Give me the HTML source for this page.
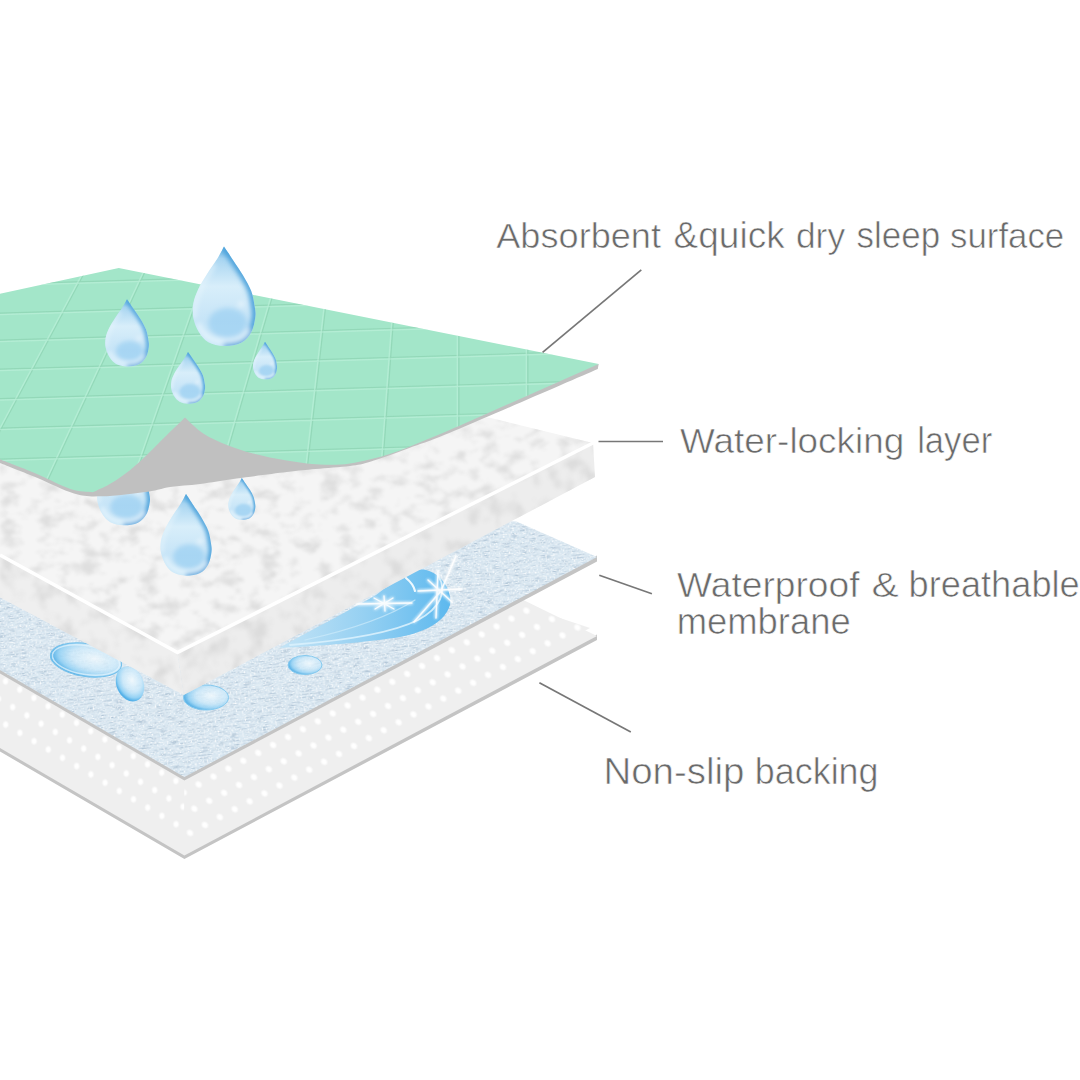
<!DOCTYPE html>
<html><head><meta charset="utf-8"><style>
html,body{margin:0;padding:0;background:#fff;width:1080px;height:1080px;overflow:hidden}
svg{display:block}
text{font-family:"Liberation Sans",sans-serif;fill:#6a6a6a;stroke:#fff;stroke-width:0.6px}
</style></head><body>
<svg width="1080" height="1080" viewBox="0 0 1080 1080">
<defs>
  <radialGradient id="dotG"><stop offset="0.45" stop-color="#fff"/><stop offset="1" stop-color="#fff" stop-opacity="0"/></radialGradient>
  <pattern id="dots" patternUnits="userSpaceOnUse" width="1" height="1" patternTransform="matrix(14.9 -7.9 10.6 16.3 494.45 638.6)">
    <rect width="1" height="1" fill="#efefef"/>
    <circle cx="0.5" cy="0.5" r="0.23" fill="url(#dotG)"/>
  </pattern>
  <pattern id="dotsL" patternUnits="userSpaceOnUse" width="1" height="1" patternTransform="matrix(14.2 8.3 -7 17.5 87.1 718.2)">
    <rect width="1" height="1" fill="#efefef"/>
    <circle cx="0.5" cy="0.5" r="0.22" fill="url(#dotG)"/>
  </pattern>
  <radialGradient id="dropG" cx="0.52" cy="0.72" r="0.62">
    <stop offset="0" stop-color="#8ccaf0"/>
    <stop offset="0.35" stop-color="#a9d7f3"/>
    <stop offset="0.7" stop-color="#d6edfa"/>
    <stop offset="0.86" stop-color="#c9e6f8"/>
    <stop offset="1" stop-color="#4fa2da"/>
  </radialGradient>
  <radialGradient id="blobG" cx="0.5" cy="0.5" r="0.5">
    <stop offset="0" stop-color="#6fb8e8" stop-opacity="0.85"/>
    <stop offset="0.7" stop-color="#8cc8ee" stop-opacity="0.5"/>
    <stop offset="1" stop-color="#a0d2f0" stop-opacity="0"/>
  </radialGradient>
  <path id="dropP" d="M0,-2.06 C0.048,-1.988 0.188,-1.782 0.290,-1.630 C0.392,-1.478 0.513,-1.312 0.610,-1.150 C0.707,-0.988 0.808,-0.823 0.870,-0.660 C0.932,-0.497 0.958,-0.307 0.980,-0.170 C1.002,-0.033 1.018,0.025 1.000,0.160 C0.982,0.295 0.945,0.505 0.870,0.640 C0.795,0.775 0.695,0.898 0.550,0.970 C0.405,1.042 0.175,1.073 0.000,1.070 C-0.175,1.067 -0.367,1.022 -0.500,0.950 C-0.633,0.878 -0.720,0.767 -0.800,0.640 C-0.880,0.513 -0.950,0.342 -0.980,0.190 C-1.010,0.038 -1.007,-0.118 -0.980,-0.270 C-0.953,-0.422 -0.895,-0.563 -0.820,-0.720 C-0.745,-0.877 -0.633,-1.047 -0.530,-1.210 C-0.427,-1.373 -0.288,-1.558 -0.200,-1.700 C-0.112,-1.842 -0.033,-2.000 0.000,-2.060 Z"/>
  <linearGradient id="dropBase" x1="0" y1="0" x2="0" y2="1">
    <stop offset="0" stop-color="#5aaee2"/>
    <stop offset="0.12" stop-color="#a8d5f1"/>
    <stop offset="0.4" stop-color="#d8eefa"/>
    <stop offset="0.75" stop-color="#c6e4f7"/>
    <stop offset="1" stop-color="#cbe8f8"/>
  </linearGradient>
  <filter id="dblur" x="-20%" y="-20%" width="140%" height="140%"><feGaussianBlur stdDeviation="0.09"/></filter>
  <clipPath id="dropClip"><use href="#dropP"/></clipPath>
  <g id="drop">
    <use href="#dropP" fill="url(#dropBase)"/>
    <g clip-path="url(#dropClip)">
      <g filter="url(#dblur)">
        <ellipse cx="0.12" cy="0.35" rx="0.62" ry="0.48" fill="#8ac8ef" opacity="0.5"/>
        <path d="M0,-2.06 C0.048,-1.988 0.188,-1.782 0.290,-1.630 C0.392,-1.478 0.513,-1.312 0.610,-1.150 C0.707,-0.988 0.808,-0.823 0.870,-0.660 C0.932,-0.497 0.958,-0.307 0.980,-0.170 C1.002,-0.033 1.018,0.025 1.000,0.160 C0.982,0.295 0.945,0.505 0.870,0.640 C0.795,0.775 0.695,0.898 0.550,0.970 C0.405,1.042 0.092,1.053 0.000,1.070" fill="none" stroke="#4aa0da" stroke-width="0.22"/>
        <path d="M-0.82,0.35 C-0.7,0.8 -0.3,0.95 0.2,0.92 C0.5,0.9 0.7,0.75 0.8,0.55" fill="none" stroke="#eaf7fe" stroke-width="0.14" opacity="0.85"/>
        <path d="M-0.95,0.2 C-0.98,-0.3 -0.8,-0.75 -0.3,-1.5" fill="none" stroke="#e6f5fd" stroke-width="0.12" opacity="0.8"/>
        <ellipse cx="0.55" cy="-0.25" rx="0.08" ry="0.06" fill="#fff" opacity="0.9"/>
      </g>
    </g>
  </g>

  <filter id="foamTex" x="0" y="0" width="1" height="1" color-interpolation-filters="sRGB">
    <feTurbulence type="fractalNoise" baseFrequency="0.05 0.08" numOctaves="3" seed="4" result="n"/>
    <feColorMatrix in="n" type="matrix" values="0 0 0 0 0  0 0 0 0 0  0 0 0 0 0  -3.4 0 0 0 1.78" result="a0"/>
    <feGaussianBlur in="a0" stdDeviation="1.2" result="a"/>
    <feFlood flood-color="#dfdfdf"/>
    <feComposite in2="a" operator="in"/>
  </filter>
  <filter id="blueTex" x="0" y="0" width="1" height="1" color-interpolation-filters="sRGB">
    <feTurbulence type="fractalNoise" baseFrequency="0.1 0.7" numOctaves="3" seed="5" result="n"/>
    <feColorMatrix in="n" type="matrix" values="0 0 0 0 0.68  0 0 0 0 0.76  0 0 0 0 0.83  -2.8 0 0 0 1.42" result="dk"/>
    <feTurbulence type="fractalNoise" baseFrequency="0.5 0.8" numOctaves="1" seed="9" result="n2"/>
    <feColorMatrix in="n2" type="matrix" values="0 0 0 0 1  0 0 0 0 1  0 0 0 0 1  3 0 0 0 -1.45" result="wh"/>
    <feMerge><feMergeNode in="dk"/><feMergeNode in="wh"/></feMerge>
  </filter>
  <clipPath id="foamTopClip"><polygon points="0,400 490,417.8 593,443 177.5,652.5 0,555"/></clipPath>
  <clipPath id="foamSideClip"><polygon points="0,555 177.5,652.5 593,443 595,477 183.75,695 0,597.5"/></clipPath>
  <filter id="foamSide" x="0" y="0" width="1" height="1" color-interpolation-filters="sRGB">
    <feTurbulence type="fractalNoise" baseFrequency="0.06 0.05" numOctaves="3" seed="11" result="n"/>
    <feColorMatrix in="n" type="matrix" values="0 0 0 0 0  0 0 0 0 0  0 0 0 0 0  -3.4 0 0 0 1.8" result="a0"/>
    <feGaussianBlur in="a0" stdDeviation="1.4" result="a"/>
    <feFlood flood-color="#dcdcdc"/>
    <feComposite in2="a" operator="in"/>
  </filter>
  <clipPath id="blueClip"><polygon points="0,500 517,521.7 597,557 184.4,777 0,670"/></clipPath>
  <clipPath id="greenClip"><use href="#greenShape"/></clipPath>
  <filter id="soft" x="-5%" y="-5%" width="110%" height="110%"><feGaussianBlur stdDeviation="0.6"/></filter>
</defs>

<!-- bottom backing layer -->
<polygon points="0,746 184.4,853 597,634.5 597,640 184.4,859 0,751.5" fill="#c4c4c4"/>
<polygon points="0,530 360,520 597,636 184.4,855.5 0,748" fill="#efefef"/>
<polygon points="184.2,843.6 590,628 400,565 184.2,520" fill="url(#dots)"/>
<polygon points="0,736 184.2,843.6 184.2,520 0,500" fill="url(#dotsL)"/>

<!-- blue membrane -->
<polygon points="0,668 184.4,775 597,555.5 597,561.5 184.4,780.5 0,673.5" fill="#c4c4c4"/>
<polygon points="0,500 517,521.7 597,557 184.4,777 0,670" fill="#d9e7f1"/>
<g clip-path="url(#blueClip)"><g transform="rotate(-6 300 650)"><rect x="-150" y="380" width="900" height="540" filter="url(#blueTex)"/></g></g>

<!-- splash & puddles -->
<defs>
  <linearGradient id="splG" x1="0" y1="1" x2="1" y2="0">
    <stop offset="0" stop-color="#9fd4f3"/>
    <stop offset="0.6" stop-color="#7cc4ef"/>
    <stop offset="1" stop-color="#5bb3ea"/>
  </linearGradient>
  <radialGradient id="pudG" cx="0.62" cy="0.42" r="0.6">
    <stop offset="0" stop-color="#f2fafe" stop-opacity="0.9"/>
    <stop offset="0.55" stop-color="#c9e8fa" stop-opacity="0.85"/>
    <stop offset="0.85" stop-color="#93d1f4"/>
    <stop offset="1" stop-color="#55b1e8"/>
  </radialGradient>
</defs>
<defs>
  <linearGradient id="splG2" x1="279" y1="0" x2="452" y2="0" gradientUnits="userSpaceOnUse">
    <stop offset="0" stop-color="#c4e4f6"/>
    <stop offset="0.5" stop-color="#95d0f2"/>
    <stop offset="1" stop-color="#5cb8ee"/>
  </linearGradient>
  <filter id="glow" x="-20%" y="-20%" width="140%" height="140%">
    <feGaussianBlur stdDeviation="1.6" result="b"/>
    <feMerge><feMergeNode in="b"/><feMergeNode in="b"/><feMergeNode in="SourceGraphic"/></feMerge>
  </filter>
</defs>
<path d="M279,648 C320,646 370,642 400,637 C425,632 445,622 450,605 C453,590 440,572 424,569.5 C405,568 390,585 376,595 C350,610 330,620 279,648 Z" fill="url(#splG2)"/>
<g fill="none" stroke-linecap="round" filter="url(#soft)">
  <path d="M290,645 C340,641 390,634 418,620 C440,608 448,592 438,575" stroke="#d9f1fd" stroke-width="1.8" opacity="0.9"/>
  <path d="M305,640 C350,630 390,616 415,600" stroke="#cdebfb" stroke-width="1.2" opacity="0.7"/>
  <path d="M406,578 C411,582 414,587 415,591" stroke="#eef9ff" stroke-width="2.2"/>
</g>
<g stroke="#fff" stroke-linecap="round" filter="url(#glow)" opacity="0.95">
  <path d="M356,604 L412,603 M384,596 L385,611 M374,598 L394,609 M375,609 L393,598" stroke-width="1.3"/>
  <path d="M441,591 L456,556 M441,591 L414,622 M418,591 L462,589 M438,571 L436,618 M428,580 L452,602" stroke-width="1.4"/>
</g>
<ellipse cx="86" cy="660" rx="36" ry="16.5" transform="rotate(9 86 660)" fill="url(#pudG)" stroke="#6cbdea" stroke-width="1" opacity="0.92"/>
<ellipse cx="86" cy="660" rx="34" ry="14.5" transform="rotate(9 86 660)" fill="none" stroke="#e8f6fd" stroke-width="1.5" opacity="0.7"/>
<ellipse cx="130" cy="684" rx="13.5" ry="18" transform="rotate(-22 130 684)" fill="url(#pudG)"/>
<ellipse cx="206" cy="697.5" rx="22.5" ry="12.5" fill="url(#pudG)" stroke="#7cc6ee" stroke-width="1" opacity="0.9"/>
<ellipse cx="305" cy="665" rx="17" ry="9.5" fill="url(#pudG)" stroke="#7cc6ee" stroke-width="1" opacity="0.9"/>
<!-- foam layer -->
<polygon points="0,400 490,417.8 593,443 177.5,652.5 0,555" fill="#f5f5f5"/>
<polygon points="0,555 177.5,652.5 183.75,695 0,597.5" fill="#efefef"/>
<polygon points="177.5,652.5 593,443 595,477 183.75,695" fill="#ededed"/>
<g clip-path="url(#foamTopClip)"><rect x="0" y="380" width="600" height="280" filter="url(#foamTex)" /></g>
<g clip-path="url(#foamSideClip)"><rect x="0" y="440" width="600" height="260" filter="url(#foamSide)" /></g>
<polyline points="0,555 177.5,652.5 593,443" fill="none" stroke="#fff" stroke-width="3.5" stroke-linejoin="round"/>

<!-- drops under curl -->
<use href="#drop" transform="translate(123.5,498) scale(26.3 25.5)"/>
<use href="#drop" transform="translate(186,547.7) scale(25.5 26.1)"/>
<use href="#drop" transform="translate(241.8,505.5) scale(13.5 13.4)"/>
<!-- green layer -->
<path d="M0,459 L0,463 C6.2,465.5 24.7,472.7 37.0,477.8 C49.3,482.9 63.2,490.4 74.0,493.5 C84.8,496.6 89.6,496.6 101.9,496.3 C114.2,496.0 136.7,493.2 148.0,491.7 C159.3,490.1 161.3,488.3 170.0,487.0 C178.7,485.7 188.9,485.4 200.0,484.0 C211.1,482.6 222.2,480.5 236.7,478.5 C251.1,476.5 273.5,473.6 286.7,472.0 C299.9,470.4 305.1,470.0 315.6,469.0 C326.2,468.0 340.8,467.2 350.0,466.0 C359.2,464.8 361.3,464.4 371.0,461.5 C380.7,458.6 393.2,454.0 408.0,448.5 C422.8,443.0 428.4,441.8 460.0,428.5 C491.6,415.2 574.8,378.9 597.8,369.0 L598.7,364 L185,417 Z" fill="#c0c0c0"/>
<path id="greenShape" d="M0,293.75 L118.75,268 L598.7,364 L460,425.4 C454.4,427.8 438.4,434.7 426.7,439.5 C415.0,444.3 402.4,450.0 389.6,454.0 C376.8,458.0 361.6,461.8 350.0,463.5 C338.4,465.2 330.6,465.0 320.0,464.5 C309.4,464.0 297.8,462.3 286.7,460.5 C275.6,458.7 263.0,456.0 253.3,453.5 C243.6,451.0 236.6,448.8 228.3,445.5 C220.0,442.2 210.5,438.2 203.3,433.5 C196.1,428.8 188.1,420.2 185.0,417.5 C181.9,420.4 172.9,429.2 166.7,435.2 C160.5,441.2 154.2,447.8 148.0,453.7 C141.8,459.6 135.8,465.5 129.6,470.4 C123.4,475.3 116.5,479.9 111.0,483.3 C105.5,486.7 99.4,489.2 96.3,490.7 C93.2,492.2 93.2,491.9 92.6,492.2 C88.9,491.6 79.7,491.9 70.4,488.9 C61.1,485.9 48.7,478.9 37.0,474.0 C25.3,469.1 6.2,461.8 0.0,459.3 Z" fill="#a3e6c9"/>
<g clip-path="url(#greenClip)"><g filter="url(#soft)">
  <path d="M0,284.1 L600,266.1 M0,313.1 L600,295.1 M0,340.1 L600,322.1 M0,369.1 L600,351.1 M0,398.6 L600,380.6 M0,428.1 L600,410.1 M0,459.1 L600,441.1 M96.6,250 L-36.8,500 M155.2,250 L38.6,500 M214.4,250 L127.0,500 M286.0,250 L213.4,500 M332.1,250 L303.7,500 M398.6,250 L380.2,500 M458.9,250 L458.9,500 M527.9,250 L527.9,500" stroke="#88cfae" stroke-width="1.2" fill="none" opacity="0.6"/>
  <path d="M0,285.7 L600,267.7 M0,314.7 L600,296.7 M0,341.7 L600,323.7 M0,370.7 L600,352.7 M0,400.2 L600,382.2 M0,429.7 L600,411.7 M0,460.7 L600,442.7 M95.0,250 L-38.4,500 M153.6,250 L37.0,500 M212.8,250 L125.4,500 M284.4,250 L211.8,500 M330.5,250 L302.1,500 M397.0,250 L378.6,500 M457.3,250 L457.3,500 M526.3,250 L526.3,500" stroke="#bff2dc" stroke-width="1.3" fill="none" opacity="0.6"/>
</g></g>

<!-- drops top -->
<g>
  <use href="#drop" transform="translate(224,312) scale(31.3 31.8)"/>
  <use href="#drop" transform="translate(127,343.5) scale(21.8 21.5)"/>
  <use href="#drop" transform="translate(188,386) scale(17 16.5)"/>
  <use href="#drop" transform="translate(265,366.5) scale(12 12)"/>
</g>

<!-- leader lines -->
<g stroke="#777" stroke-width="1.7" fill="none">
  <line x1="542.6" y1="352.3" x2="641.3" y2="269.9"/>
  <line x1="598.5" y1="441.5" x2="663" y2="441.5"/>
  <line x1="599.3" y1="575.2" x2="651.9" y2="593.7"/>
  <line x1="539.4" y1="682.7" x2="630.8" y2="732"/>
</g>

<!-- text -->
<text transform="translate(496.25 247.5) scale(1.0044 1)" font-size="36">Absorbent</text>
<text transform="translate(673.60 247.5) scale(1.0278 1)" font-size="36">&amp;quick</text>
<text transform="translate(795.94 247.5) scale(0.9826 1)" font-size="36">dry</text>
<text transform="translate(856.55 247.5) scale(0.9716 1)" font-size="36">sleep</text>
<text transform="translate(950.06 247.5) scale(0.9673 1)" font-size="36">surface</text>
<text transform="translate(680.10 453.3) scale(1.0250 1)" font-size="36">Water-locking</text>
<text transform="translate(917.13 453.3) scale(0.9619 1)" font-size="36">layer</text>
<text transform="translate(677.00 597.4) scale(1.0334 1)" font-size="36">Waterproof</text>
<text transform="translate(871.40 597.4) scale(1.1350 1)" font-size="36">&amp;</text>
<text transform="translate(908.54 597.4) scale(1.0067 1)" font-size="36">breathable</text>
<text transform="translate(676.63 633.8) scale(1.0123 1)" font-size="36">membrane</text>
<text transform="translate(603.48 783.5) scale(1.0678 1)" font-size="36">Non-slip</text>
<text transform="translate(754.86 783.5) scale(0.9969 1)" font-size="36">backing</text>
</svg>
</body></html>
